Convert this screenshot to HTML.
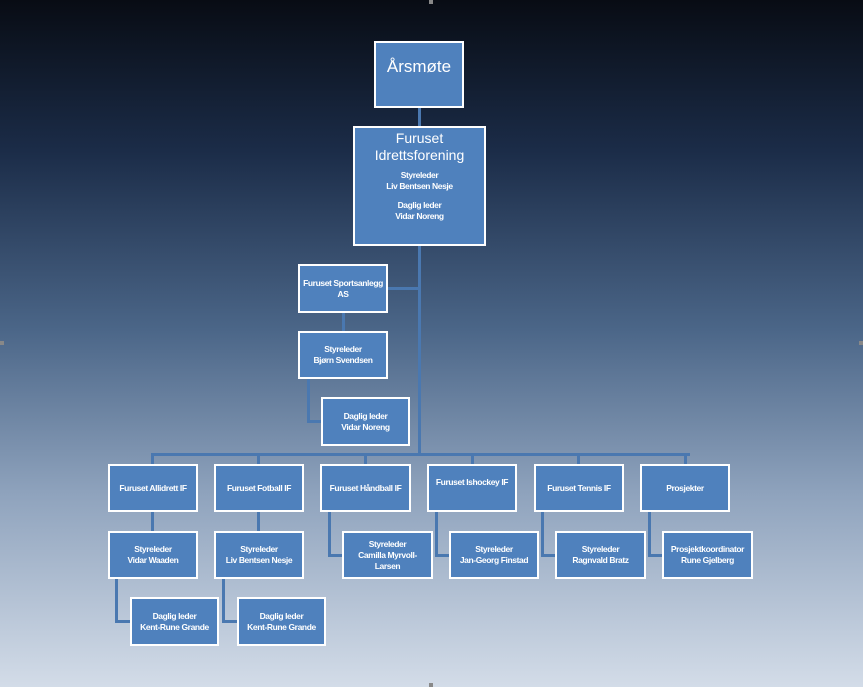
<!DOCTYPE html>
<html><head><meta charset="utf-8"><style>
body{margin:0;width:863px;height:687px;overflow:hidden;background:linear-gradient(to bottom,#080c14 0%,#1b2c48 22%,#4b6688 48%,#8fa3bd 72%,#d3dce8 100%);font-family:"Liberation Sans",sans-serif;position:relative}
.b{position:absolute;box-sizing:border-box;background:#4f81bd;border:2.5px solid #fff;color:#fff;display:flex;flex-direction:column;align-items:center;justify-content:center;text-align:center;font-size:8.5px;line-height:11px;letter-spacing:-0.4px;font-weight:bold}
.l{position:absolute;background:#4a78b0}
.h{position:absolute;background:#888;width:4px;height:4px}
</style></head><body>
<div class="h" style="left:429px;top:0"></div>
<div class="h" style="left:429px;top:683px"></div>
<div class="h" style="left:0;top:341px"></div>
<div class="h" style="left:859px;top:341px"></div>
<!-- connectors -->
<div class="l" style="left:418px;top:106px;width:3px;height:22px"></div>
<div class="l" style="left:418px;top:244px;width:3px;height:212px"></div>
<div class="l" style="left:386px;top:287px;width:34px;height:3px"></div>
<div class="l" style="left:342px;top:311px;width:3px;height:22px"></div>
<div class="l" style="left:307px;top:377px;width:3px;height:45px"></div>
<div class="l" style="left:307px;top:420px;width:16px;height:3px"></div>
<div class="l" style="left:151px;top:453px;width:539px;height:3px"></div>
<div class="l" style="left:151px;top:453px;width:3px;height:12px"></div>
<div class="l" style="left:257px;top:453px;width:3px;height:12px"></div>
<div class="l" style="left:364px;top:453px;width:3px;height:12px"></div>
<div class="l" style="left:471px;top:453px;width:3px;height:12px"></div>
<div class="l" style="left:577px;top:453px;width:3px;height:12px"></div>
<div class="l" style="left:684px;top:453px;width:3px;height:12px"></div>
<div class="l" style="left:151px;top:510px;width:3px;height:22px"></div>
<div class="l" style="left:257px;top:510px;width:3px;height:22px"></div>
<div class="l" style="left:115px;top:577px;width:3px;height:45px"></div>
<div class="l" style="left:115px;top:620px;width:16px;height:3px"></div>
<div class="l" style="left:222px;top:577px;width:3px;height:45px"></div>
<div class="l" style="left:222px;top:620px;width:16px;height:3px"></div>
<div class="l" style="left:328px;top:510px;width:3px;height:46px"></div>
<div class="l" style="left:328px;top:554px;width:16px;height:3px"></div>
<div class="l" style="left:435px;top:510px;width:3px;height:46px"></div>
<div class="l" style="left:435px;top:554px;width:16px;height:3px"></div>
<div class="l" style="left:541px;top:510px;width:3px;height:46px"></div>
<div class="l" style="left:541px;top:554px;width:16px;height:3px"></div>
<div class="l" style="left:648px;top:510px;width:3px;height:46px"></div>
<div class="l" style="left:648px;top:554px;width:16px;height:3px"></div>
<!-- boxes -->
<div class="b" style="left:374px;top:41px;width:90px;height:67px;font-size:17px;line-height:20px;justify-content:flex-start;padding-top:14px;font-weight:normal;letter-spacing:0">Årsmøte</div>
<div class="b" style="left:353px;top:126px;width:133px;height:120px;justify-content:flex-start;padding-top:2px"><div style="font-size:14px;line-height:17px;font-weight:normal;letter-spacing:0">Furuset<br>Idrettsforening</div><div style="margin-top:6px">Styreleder<br>Liv Bentsen Nesje</div><div style="margin-top:8px">Daglig leder<br>Vidar Noreng</div></div>
<div class="b" style="left:298px;top:264px;width:90px;height:49px">Furuset Sportsanlegg<br>AS</div>
<div class="b" style="left:298px;top:331px;width:90px;height:48px">Styreleder<br>Bjørn Svendsen</div>
<div class="b" style="left:321px;top:397px;width:89px;height:49px">Daglig leder<br>Vidar Noreng</div>
<div class="b" style="left:108px;top:464px;width:90px;height:48px">Furuset Allidrett IF</div>
<div class="b" style="left:214px;top:464px;width:90px;height:48px">Furuset Fotball IF</div>
<div class="b" style="left:320px;top:464px;width:91px;height:48px">Furuset Håndball IF</div>
<div class="b" style="left:427px;top:464px;width:90px;height:48px;justify-content:flex-start;padding-top:11px">Furuset Ishockey IF</div>
<div class="b" style="left:534px;top:464px;width:90px;height:48px">Furuset Tennis IF</div>
<div class="b" style="left:640px;top:464px;width:90px;height:48px">Prosjekter</div>
<div class="b" style="left:108px;top:531px;width:90px;height:48px">Styreleder<br>Vidar Waaden</div>
<div class="b" style="left:214px;top:531px;width:90px;height:48px">Styreleder<br>Liv Bentsen Nesje</div>
<div class="b" style="left:342px;top:531px;width:91px;height:48px">Styreleder<br>Camilla Myrvoll-<br>Larsen</div>
<div class="b" style="left:449px;top:531px;width:90px;height:48px">Styreleder<br>Jan-Georg Finstad</div>
<div class="b" style="left:555px;top:531px;width:91px;height:48px">Styreleder<br>Ragnvald Bratz</div>
<div class="b" style="left:662px;top:531px;width:91px;height:48px">Prosjektkoordinator<br>Rune Gjelberg</div>
<div class="b" style="left:130px;top:597px;width:89px;height:49px">Daglig leder<br>Kent-Rune Grande</div>
<div class="b" style="left:237px;top:597px;width:89px;height:49px">Daglig leder<br>Kent-Rune Grande</div>
</body></html>
